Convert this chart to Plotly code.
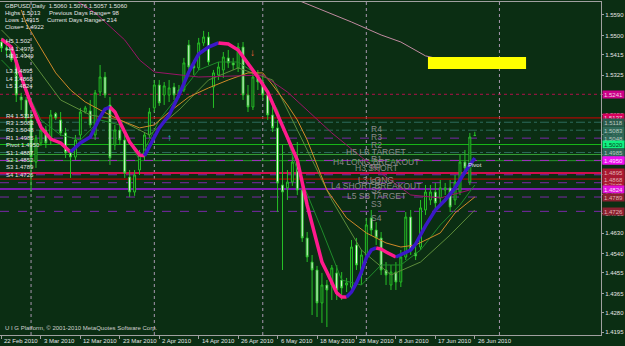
import plotly.graph_objects as go

BG = "#0b2e13"
FONT = "Liberation Sans, Arial, sans-serif"

# ---------------- data ----------------
date_label_bars = [0, 8, 16, 24, 32, 40, 48, 56, 64, 72, 80, 88, 96]
date_labels = ["22 Feb 2010", "3 Mar 2010", "12 Mar 2010", "23 Mar 2010", "2 Apr 2010",
               "14 Apr 2010", "26 Apr 2010", "6 May 2010", "18 May 2010", "28 May 2010",
               "8 Jun 2010", "17 Jun 2010", "26 Jun 2010"]

opens = [1.5471, 1.5445, 1.5436, 1.5392, 1.5229, 1.5216, 1.5128, 1.4943, 1.5027, 1.5084,
         1.5040, 1.5156, 1.5128, 1.5071, 1.4983, 1.4965, 1.5062, 1.5163, 1.5168, 1.5062,
         1.5251, 1.5317, 1.5194, 1.5018, 1.5084, 1.5040, 1.4877, 1.4811, 1.4908, 1.4974,
         1.5062, 1.5181, 1.5282, 1.5238, 1.5238, 1.5273, 1.5238, 1.5260, 1.5458, 1.5366,
         1.5357, 1.5467, 1.5493, 1.5273, 1.5326, 1.5348, 1.5401, 1.5379, 1.5357, 1.5449,
         1.5238, 1.5185, 1.5313, 1.5295, 1.5238, 1.5150, 1.5093, 1.4842, 1.4829, 1.4855,
         1.4943, 1.4820, 1.4609, 1.4503, 1.4468, 1.4323, 1.4402, 1.4402, 1.4455, 1.4424,
         1.4402, 1.4393, 1.4578, 1.4446, 1.4534, 1.4697, 1.4644, 1.4609, 1.4468, 1.4402,
         1.4459, 1.4415, 1.4525, 1.4701, 1.4543, 1.4569, 1.4732, 1.4776, 1.4811, 1.4785,
         1.4820, 1.4829, 1.4776, 1.4811, 1.4943, 1.4855, 1.5060]
highs = [1.5489, 1.5480, 1.5458, 1.5401, 1.5247, 1.5229, 1.5163, 1.5062, 1.5106, 1.5102,
         1.5172, 1.5163, 1.5163, 1.5093, 1.4996, 1.5062, 1.5181, 1.5190, 1.5216, 1.5260,
         1.5370, 1.5339, 1.5229, 1.5106, 1.5119, 1.5062, 1.4908, 1.4908, 1.4996, 1.5075,
         1.5181, 1.5304, 1.5304, 1.5295, 1.5304, 1.5291, 1.5282, 1.5401, 1.5480, 1.5392,
         1.5489, 1.5520, 1.5515, 1.5348, 1.5383, 1.5427, 1.5436, 1.5401, 1.5467, 1.5471,
         1.5282, 1.5335, 1.5348, 1.5326, 1.5260, 1.5194, 1.5128, 1.5018, 1.4908, 1.4996,
         1.5031, 1.4842, 1.4635, 1.4534, 1.4486, 1.4455, 1.4424, 1.4490, 1.4490, 1.4459,
         1.4433, 1.4600, 1.4609, 1.4556, 1.4697, 1.4732, 1.4679, 1.4635, 1.4503, 1.4490,
         1.4503, 1.4556, 1.4723, 1.4732, 1.4578, 1.4776, 1.4842, 1.4842, 1.4851, 1.4864,
         1.4851, 1.4864, 1.4886, 1.4974, 1.4996, 1.5071, 1.5076]
lows = [1.5427, 1.5410, 1.5383, 1.5207, 1.5172, 1.5119, 1.4811, 1.4917, 1.5014, 1.5005,
        1.5018, 1.5128, 1.5058, 1.4961, 1.4873, 1.4952, 1.5040, 1.5156, 1.5093, 1.5040,
        1.5234, 1.5225, 1.4930, 1.4996, 1.5018, 1.4873, 1.4789, 1.4794, 1.4886, 1.4952,
        1.5049, 1.5163, 1.5190, 1.5194, 1.5207, 1.5216, 1.5225, 1.5251, 1.5348, 1.5326,
        1.5348, 1.5454, 1.5370, 1.5181, 1.5304, 1.5313, 1.5357, 1.5348, 1.5339, 1.5216,
        1.5163, 1.5172, 1.5260, 1.5216, 1.5128, 1.5075, 1.4723, 1.4468, 1.4776, 1.4838,
        1.4798, 1.4591, 1.4503, 1.4270, 1.4261, 1.4235, 1.4217, 1.4336, 1.4336, 1.4336,
        1.4371, 1.4371, 1.4468, 1.4402, 1.4512, 1.4622, 1.4578, 1.4446, 1.4402, 1.4380,
        1.4380, 1.4393, 1.4512, 1.4534, 1.4512, 1.4556, 1.4710, 1.4754, 1.4732, 1.4754,
        1.4798, 1.4723, 1.4754, 1.4798, 1.4886, 1.4842, 1.5057]
closes = [1.5445, 1.5436, 1.5392, 1.5238, 1.5216, 1.5137, 1.4965, 1.5049, 1.5084, 1.5027,
          1.5150, 1.5137, 1.5071, 1.4983, 1.4965, 1.5040, 1.5163, 1.5181, 1.5106, 1.5247,
          1.5317, 1.5238, 1.4961, 1.5084, 1.5040, 1.4895, 1.4811, 1.4886, 1.4974, 1.5062,
          1.5163, 1.5282, 1.5203, 1.5278, 1.5269, 1.5238, 1.5260, 1.5379, 1.5361, 1.5357,
          1.5467, 1.5493, 1.5383, 1.5335, 1.5361, 1.5405, 1.5379, 1.5370, 1.5449, 1.5238,
          1.5185, 1.5317, 1.5295, 1.5238, 1.5150, 1.5093, 1.4851, 1.4811, 1.4855, 1.4943,
          1.4820, 1.4609, 1.4525, 1.4468, 1.4323, 1.4402, 1.4380, 1.4477, 1.4380, 1.4389,
          1.4411, 1.4569, 1.4490, 1.4534, 1.4666, 1.4644, 1.4609, 1.4468, 1.4446, 1.4459,
          1.4415, 1.4525, 1.4701, 1.4556, 1.4530, 1.4741, 1.4811, 1.4811, 1.4763, 1.4829,
          1.4829, 1.4745, 1.4855, 1.4943, 1.4917, 1.5053, 1.5060]
bars = list(range(len(opens)))

# thick trend line (pink when falling, blue when rising)
thick_bars = [0, 2, 4, 6, 8, 10, 12, 14, 15, 16, 18, 20, 21, 22, 23, 24, 26, 28, 29, 30,
              31, 32, 34, 36, 38, 40, 42, 44, 46, 48, 50, 52, 54, 56, 58, 60, 62, 64, 65, 66,
              67, 68, 69, 70, 71, 72, 73, 74, 75, 76, 77, 78, 80, 82, 83, 84, 86, 88, 90, 92,
              94, 96]
thick_vals = [1.5484, 1.5449, 1.5317, 1.5198, 1.5097, 1.5044, 1.5027, 1.4987, 1.5005, 1.5027,
              1.5053, 1.5141, 1.5176, 1.5185, 1.5163, 1.5119, 1.5031, 1.4974, 1.4970, 1.5009,
              1.5049, 1.5093, 1.5150, 1.5238, 1.5339, 1.5418, 1.5449, 1.5467, 1.5462, 1.5436,
              1.5379, 1.5317, 1.5251, 1.5150, 1.5053, 1.4952, 1.4754, 1.4578, 1.4503, 1.4459,
              1.4415, 1.4367, 1.4349, 1.4349, 1.4371, 1.4411, 1.4459, 1.4521, 1.4556, 1.4565,
              1.4560, 1.4547, 1.4525, 1.4543, 1.4556, 1.4582, 1.4662, 1.4732, 1.4776, 1.4829,
              1.4899, 1.4961]

ma_mauve_bars = [60, 65, 71, 77, 81, 86, 95]
ma_mauve_vals = [1.5656, 1.5612, 1.5559, 1.5502, 1.5471, 1.5410, 1.5366]

ma_purple_bars = [15, 19, 25, 28, 31, 40, 48, 53, 58, 64, 67, 73, 78, 83, 89, 95]
ma_purple_vals = [1.5656, 1.5599, 1.5480, 1.5392, 1.5339, 1.5317, 1.5322, 1.5326, 1.5251,
                  1.5128, 1.5071, 1.4965, 1.4877, 1.4798, 1.4785, 1.4820]

ma_orange_bars = [4, 5, 7, 9, 11, 14, 17, 20, 24, 28, 31, 34, 38, 42, 46, 50, 53, 55, 58, 60,
                  62, 64, 66, 70, 74, 78, 81, 84, 89, 92, 96]
ma_orange_vals = [1.5612, 1.5555, 1.5480, 1.5405, 1.5335, 1.5260, 1.5207, 1.5172, 1.5128,
                  1.5093, 1.5106, 1.5163, 1.5229, 1.5269, 1.5304, 1.5335, 1.5335, 1.5282,
                  1.5194, 1.5128, 1.5040, 1.4930, 1.4820, 1.4697, 1.4631, 1.4587, 1.4569,
                  1.4578, 1.4631, 1.4719, 1.4789]

ma_green_bars = [0, 4, 8, 12, 16, 20, 24, 28, 32, 36, 40, 44, 48, 52, 56, 60, 65, 69, 73, 77,
                 81, 85, 89, 93, 96]
ma_green_vals = [1.5392, 1.5304, 1.5128, 1.5062, 1.5040, 1.5128, 1.5106, 1.4952, 1.5128,
                 1.5238, 1.5348, 1.5383, 1.5383, 1.5326, 1.5172, 1.4908, 1.4644, 1.4424,
                 1.4402, 1.4490, 1.4490, 1.4556, 1.4666, 1.4754, 1.4842]

ma_olive_bars = [0, 6, 12, 18, 24, 30, 36, 42, 48, 55, 60, 67, 73, 79, 85, 91, 96]
ma_olive_vals = [1.5524, 1.5392, 1.5216, 1.5150, 1.5128, 1.5062, 1.5172, 1.5304, 1.5357,
                 1.5304, 1.5084, 1.4776, 1.4556, 1.4446, 1.4503, 1.4622, 1.4732]

pivot_names = ["R4", "R3", "R2", "R1", "Pivot", "S1", "S2", "S3", "S4"]
pivot_values = [1.5118, 1.5083, 1.5048, 1.4985, 1.4950, 1.4887, 1.4852, 1.4789, 1.4726]
cam_names = ["H5", "H4", "H3", "L3", "L4", "L5"]
cam_values = [1.5020, 1.4976, 1.4949, 1.4895, 1.4868, 1.4824]
extra_names = ["LvlA", "LvlB"]
extra_values = [1.5241, 1.5137]

month_sep_bars = [6, 31, 53, 74, 101]
price_ticks = [1.5590, 1.5500, 1.5415, 1.5325, 1.5240, 1.5150, 1.5065, 1.4975, 1.4890,
               1.4800, 1.4715, 1.4630, 1.4540, 1.4455, 1.4365, 1.4280, 1.4195]

target_box_bars = [86.5, 106.4]
target_box_prices = [1.5352, 1.5405]
arrow_up_bar, arrow_up_price = 34, 1.5053
arrow_down_bar, arrow_down_price = 51, 1.5423

# ---------------- styles ----------------
levels = dict(zip(pivot_names + cam_names + extra_names,
                  pivot_values + cam_values + extra_values))
TEAL = "#2e6a5c"
PURP = "#7a28a8"
line_style = [  # drawing order
    ("LvlA", "#b0104a", 1, "dot"),
    ("LvlB", "#d00000", 1, "solid"),
    ("R4", TEAL, 1, "dashdot"),
    ("R3", TEAL, 1, "dashdot"),
    ("R2", PURP, 1, "dash"),
    ("H5", "#18b818", 1, "solid"),
    ("R1", TEAL, 1, "dashdot"),
    ("H4", "#34a034", 1, "solid"),
    ("H3", "#2a9a2a", 1, "solid"),
    ("Pivot", "#a828c8", 1, "dash"),
    ("S1", PURP, 1, "dash"),
    ("L3", "#d0104c", 2, "solid"),
    ("L4", "#cc0000", 1, "solid"),
    ("S2", PURP, 1, "dash"),
    ("L5", "#7a1cb0", 2, "solid"),
    ("S3", PURP, 1, "dash"),
    ("S4", PURP, 1, "dash"),
]
box_style = [  # (level, bg, text colour)
    ("LvlA", "#cc0088", "#f0d0e0"),
    ("LvlB", "#d8005c", "#f0d0e0"),
    ("R4", "#2c5a4c", "#b8c8c0"),
    ("R3", "#2e6858", "#b8c8c0"),
    ("R2", "#2e6858", "#b8c8c0"),
    ("H5", "#10f080", "#0a4020"),
    ("H4", "#2e6858", "#b8c8c0"),
    ("R1", "#2e6858", "#b8c8c0"),
    ("H3", "#ee10ee", "#ffe0ff"),
    ("Pivot", "#ee10ee", "#ffe0ff"),
    ("S1", "#a81830", "#e0b0b0"),
    ("L3", "#a81830", "#e0b0b0"),
    ("S2", "#a81830", "#e0b0b0"),
    ("L4", "#a81830", "#e0b0b0"),
    ("L5", "#e010d8", "#ffe0ff"),
    ("S3", "#8a2030", "#e0b0b0"),
    ("S4", "#8a2030", "#e0b0b0"),
]
mid_labels = [("R4", "R4"), ("R3", "R3"), ("R2", "R2"), ("H5", "H5 LB TARGET"),
              ("R1", "R1"), ("H4", "H4 LONG BREAKOUT"), ("Pivot", "PP"), ("H3", "H3 SHORT"),
              ("L3", "L3 LONG"), ("S1", "S1"), ("L4", "L4 SHORT BREAKOUT"), ("S2", "S2"),
              ("L5", "L5 SB TARGET"), ("S3", "S3"), ("S4", "S4")]

PLOT_R, PLOT_T, PLOT_B = 601, 2, 335


def paper(xp, yp):
    return xp / PLOT_R, (PLOT_B - yp) / (PLOT_B - PLOT_T)


fig = go.Figure()

# thin moving averages
for bx, vy, col in [(ma_olive_bars, ma_olive_vals, "#5c8c3a"),
                    (ma_green_bars, ma_green_vals, "#1f8a2a"),
                    (ma_orange_bars, ma_orange_vals, "#d08a28"),
                    (ma_purple_bars, ma_purple_vals, "#9a1468"),
                    (ma_mauve_bars, ma_mauve_vals, "#c08aa0")]:
    fig.add_trace(go.Scatter(x=bx, y=vy, mode="lines", line=dict(color=col, width=1),
                             hoverinfo="skip", showlegend=False))

# candles
fig.add_trace(go.Candlestick(
    x=bars, open=opens, high=highs, low=lows, close=closes,
    increasing=dict(line=dict(color="#26c026", width=1), fillcolor=BG),
    decreasing=dict(line=dict(color="#26c026", width=1), fillcolor="#ffffff"),
    whiskerwidth=0, hoverinfo="skip", showlegend=False))

# thick trend line split by direction
dirs = []
prev = -1
for k in range(len(thick_vals) - 1):
    d = 1 if thick_vals[k + 1] > thick_vals[k] else (-1 if thick_vals[k + 1] < thick_vals[k] else prev)
    dirs.append(d)
    prev = d
start = 0
for k in range(1, len(dirs) + 1):
    if k == len(dirs) or dirs[k] != dirs[start]:
        col = "#3a18c8" if dirs[start] > 0 else "#ff1a8c"
        fig.add_trace(go.Scatter(x=thick_bars[start:k + 1], y=thick_vals[start:k + 1],
                                 mode="lines", line=dict(color=col, width=3.5),
                                 hoverinfo="skip", showlegend=False))
        start = k

shapes = []
for b in month_sep_bars:
    shapes.append(dict(type="line", xref="x", yref="paper", x0=b, x1=b, y0=0, y1=1,
                       line=dict(color="#a898b0", width=1, dash="dot"), layer="below"))
for name, col, w, dash in line_style:
    v = levels[name]
    shapes.append(dict(type="line", xref="paper", yref="y", x0=0, x1=1, y0=v, y1=v,
                       line=dict(color=col, width=w, dash=dash), layer="below"))
shapes.append(dict(type="rect", xref="x", yref="y", x0=target_box_bars[0], x1=target_box_bars[1],
                   y0=target_box_prices[0], y1=target_box_prices[1],
                   fillcolor="#ffff00", line=dict(width=0), layer="above"))

ann = []
txtc = "#e4e4e4"


def text_at(xp, yp, s, size=6, color=txtc):
    x, y = paper(xp, yp)
    ann.append(dict(x=x, y=y, xref="paper", yref="paper", text=s, showarrow=False,
                    xanchor="left", yanchor="middle", font=dict(size=size, color=color, family=FONT)))


text_at(3, 6, "GBPUSD,Daily  1.5060 1.5076 1.5057 1.5060")
text_at(3, 13, "Highs 1.5013")
text_at(47, 13, "Previous Days Range= 98")
text_at(3, 20, "Lows 1.4915")
text_at(45, 20, "Current Days Range= 214")
text_at(3, 27, "Close= 1.4922")
for k, n in enumerate(["H5", "H4", "H3"]):
    text_at(4, 41 + 7.5 * k, f"{n} {levels[n]:.4f}".rstrip("0") if n == "H5" else f"{n} {levels[n]:.4f}")
for k, n in enumerate(["L3", "L4", "L5"]):
    text_at(4, 71 + 7.5 * k, f"{n} {levels[n]:.4f}")
for k, n in enumerate(pivot_names):
    text_at(4, 115.5 + 7.4 * k, f"{n} {levels[n]:.4f}")
text_at(3, 328, "U I G Platform, © 2001-2010 MetaQuotes Software Corp.", size=6, color="#d0d0d0")

for key, s in mid_labels:
    ann.append(dict(x=76, y=levels[key], xref="x", yref="y", text=s, showarrow=False,
                    xanchor="center", yanchor="top", yshift=0,
                    font=dict(size=8.5, color="#8a8a8a", family=FONT)))
ann.append(dict(x=94.3, y=levels["Pivot"], xref="x", yref="y", text="Pivot", showarrow=False,
                xanchor="left", yanchor="top", font=dict(size=6, color="#e8e8e8", family=FONT)))
ann.append(dict(x=arrow_up_bar, y=arrow_up_price, xref="x", yref="y", text="↑", showarrow=False,
                font=dict(size=10, color="#20c8c8", family=FONT)))
ann.append(dict(x=arrow_down_bar, y=arrow_down_price, xref="x", yref="y", text="↓", showarrow=False,
                font=dict(size=10, color="#ff6040", family=FONT)))

for b, s in zip(date_label_bars, date_labels):
    ann.append(dict(x=b, y=0, xref="x", yref="paper", text=s, showarrow=False,
                    xanchor="left", yanchor="top", xshift=1, yshift=-1,
                    font=dict(size=6, color=txtc, family=FONT)))

for name, bg, tc in box_style:
    v = levels[name]
    ann.append(dict(x=1, y=v, xref="paper", yref="y", text=f"{v:.4f}", showarrow=False,
                    xanchor="left", yanchor="middle", xshift=1, bgcolor=bg,
                    width=21, height=7, borderpad=0,
                    font=dict(size=6, color=tc, family=FONT)))

fig.update_layout(
    width=625, height=346, margin=dict(l=0, r=24, t=2, b=11),
    paper_bgcolor=BG, plot_bgcolor=BG, showlegend=False, boxgap=0.45,
    shapes=shapes, annotations=ann,
    xaxis=dict(range=[-0.3, 121.6], showgrid=False, zeroline=False, showline=True,
               linecolor="#a0a0a0", mirror=True, ticks="outside", ticklen=3,
               tickcolor="#a0a0a0", tickvals=date_label_bars, showticklabels=False,
               rangeslider=dict(visible=False), fixedrange=True),
    yaxis=dict(range=[1.4182, 1.5647], side="right", showgrid=False, zeroline=False,
               showline=True, linecolor="#a0a0a0", mirror=True, ticks="outside", ticklen=2,
               tickcolor="#a0a0a0", tickvals=price_ticks,
               ticktext=[f"{v:.4f}" for v in price_ticks],
               tickfont=dict(size=6, color=txtc, family=FONT), fixedrange=True),
)

fig.write_html("out.html")
